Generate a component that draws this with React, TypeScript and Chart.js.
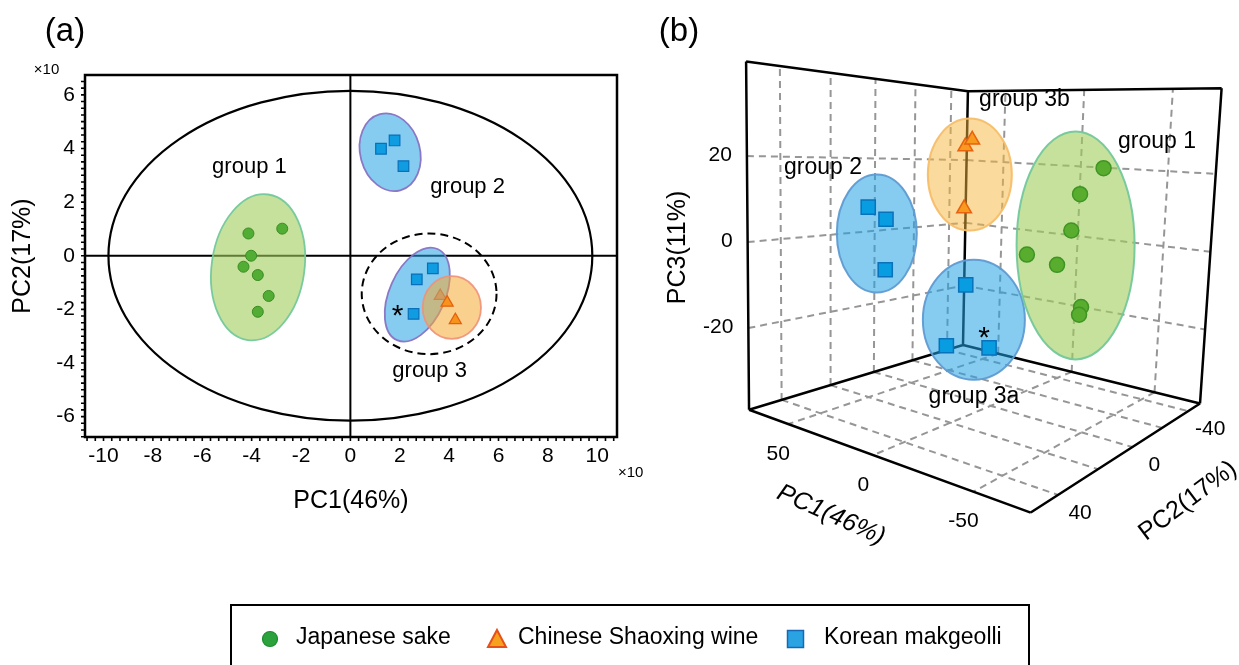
import React, { useEffect, useRef } from 'react';
import { Chart, registerables } from 'chart.js';
Chart.register(...registerables);

const W = 1239;
const H = 665;
const FONT = "'Liberation Sans', Arial, Helvetica, sans-serif";

// ---------------- data (PCA scores) ----------------
const SERIES_NAMES = ['Japanese sake', 'Chinese Shaoxing wine', 'Korean makgeolli'];
const SAKE_PC1 = [-41.3, -27.6, -40.2, -43.3, -37.5, -33.1, -37.5];
const SAKE_PC2 = [8.3, 10.1, 0, -4.1, -7.2, -15.0, -20.9];
const SAKE_PC3 = [-1.1, 0.5, 6.1, -11.7, 14.2, -15.6, 20.4];
const SHAOXING_PC1 = [36.4, 39.2, 42.5];
const SHAOXING_PC2 = [-15.0, -17.5, -24.0];
const SHAOXING_PC3 = [24.3, 7.2, 26.3];
const MAKGEOLLI_PC1 = [12.4, 17.9, 21.5, 33.4, 26.9, 25.6];
const MAKGEOLLI_PC2 = [39.9, 43.0, 33.4, -4.7, -8.8, -21.7];
const MAKGEOLLI_PC3 = [7.8, 10.3, -4.3, -28.2, -12.1, -30.5];
const MARKED_MAKGEOLLI = 5; // sample marked with *

// panel (a) axes (values shown x10)
const A_SCALE_FACTOR = 10;
const A_X_TICKS = [-10, -8, -6, -4, -2, 0, 2, 4, 6, 8, 10];
const A_Y_TICKS = [-6, -4, -2, 0, 2, 4, 6];
const A_X_RANGE = [-10.75, 10.8];
const A_Y_RANGE = [-6.76, 6.74];

// panel (b) axes
const B_PC1_RANGE = [-75, 76];
const B_PC2_RANGE = [-50, 52];
const B_PC3_RANGE = [-39, 42];
const B_PC1_TICKS = [50, 0, -50];
const B_PC2_TICKS = [-40, 0, 40];
const B_PC2_GRID = [-40, -20, 0, 20, 40];
const B_PC3_TICKS = [-20, 0, 20];

// ---------------- styles ----------------
const COL = {
  sakeFill: '#52ad34', sakeBorder: '#3a8a22',
  shaoFill: '#f7921c', shaoBorder: '#e4600e',
  makFill: '#0f9ce0', makBorder: '#0a6fb8',
  greenFill: 'rgba(160,205,90,0.6)', greenStroke: 'rgba(115,200,155,0.95)',
  blueFill: 'rgba(35,162,230,0.55)', blueStrokeA: 'rgba(135,115,195,0.95)', blueStrokeB: 'rgba(95,155,210,0.95)',
  orangeFill: 'rgba(246,170,50,0.55)', orangeStrokeA: 'rgba(240,145,120,0.9)', orangeStrokeB: 'rgba(245,190,105,0.95)',
  grid: 'rgb(150,150,150)',
};

// panel (a) annotation ellipses, in axis units
const A_OUTER = { cx: 0, cy: 0, rx: 9.8, ry: 6.15 };
const A_DASHED = { cx: 3.19, cy: -1.42, rx: 2.73, ry: 2.25 };
const A_ELLIPSES = [
  { cx: -3.74, cy: -0.43, rx: 1.88, ry: 2.74, rot: 8, fill: COL.greenFill, stroke: COL.greenStroke },
  { cx: 1.61, cy: 3.86, rx: 1.21, ry: 1.47, rot: -15, fill: COL.blueFill, stroke: COL.blueStrokeA },
  { cx: 2.71, cy: -1.45, rx: 1.13, ry: 1.86, rot: 24, fill: COL.blueFill, stroke: COL.blueStrokeA },
  { cx: 4.11, cy: -1.93, rx: 1.18, ry: 1.17, rot: 0, fill: COL.orangeFill, stroke: COL.orangeStrokeA },
];
const A_LABELS = [
  { text: 'group 1', x: -4.09, y: 3.31 },
  { text: 'group 2', x: 4.75, y: 2.58 },
  { text: 'group 3', x: 3.21, y: -4.29 },
];

// panel (b) frame: where the box corners sit in the figure
// (u: PC1 max->min, v: PC2 min->max, w: PC3 min->max)
const B_BOX = {
  B0: [969.5, 345.5], B1: [974.5, 82.5], // back vertical edge (u=0,v=0)
  L0: [751.5, 412.5], L1: [748.5, 51.7], // left edge (u=0,v=1)
  R0: [1211, 406], R1: [1233, 79.5],     // right edge (u=1,v=0)
  F0: [1038.5, 519],                      // front floor corner (u=1,v=1)
};
// group ellipses drawn in screen space around the projected group centroid
const B_ELLIPSES = [
  { series: 2, idx: [0, 1, 2], rx: 40, ry: 59, dx: -3, dy: 1.5, fill: COL.blueFill, stroke: COL.blueStrokeB },
  { series: 1, idx: [0, 1, 2], rx: 42, ry: 56, dx: 2.6, dy: 9.6, fill: 'rgba(248,182,62,0.5)', stroke: COL.orangeStrokeB },
  { series: 2, idx: [3, 4, 5], rx: 51, ry: 60, dx: 6.8, dy: -6.4, fill: COL.blueFill, stroke: COL.blueStrokeB },
  { series: 0, idx: [0, 1, 2, 3, 4, 5, 6], rx: 59, ry: 114, dx: 4.3, dy: -2.3, fill: COL.greenFill, stroke: COL.greenStroke },
];
const B_LABELS = [
  { text: 'group 2', x: 823, y: 168 },
  { text: 'group 3b', x: 1024.5, y: 99.5 },
  { text: 'group 1', x: 1157, y: 142 },
  { text: 'group 3a', x: 974, y: 397 },
];

// legend layout
const LEGEND = { left: 231, top: 605, right: 1029, y: 639 };
const LEGEND_MARK_X = [270, 497, 795.5];
const LEGEND_TEXT_X = [296, 518, 824];

// ---------------- helpers ----------------
// perspective floor/top planes (homography from the corners), linear along PC3
function makeProjection(b: typeof B_BOX) {
  const { B0, B1, L0, L1, R0, R1, F0 } = b;
  const a11 = R0[0] - F0[0], a12 = L0[0] - F0[0];
  const a21 = R0[1] - F0[1], a22 = L0[1] - F0[1];
  const b1 = B0[0] - F0[0], b2 = B0[1] - F0[1];
  const det = a11 * a22 - a12 * a21;
  const wR = (b1 * a22 - a12 * b2) / det;
  const wL = (a11 * b2 - a21 * b1) / det;
  return (u: number, v: number, w: number) => {
    const D = 1 + u * (wR - 1) + v * (wL - 1);
    const f = (P0: number[], Pl: number[], Pr: number[], k: number) =>
      P0[k] + u * (wR * Pr[k] - P0[k]) + v * (wL * Pl[k] - P0[k]);
    return [
      ((1 - w) * f(B0, L0, R0, 0) + w * f(B1, L1, R1, 0)) / D,
      ((1 - w) * f(B0, L0, R0, 1) + w * f(B1, L1, R1, 1)) / D,
    ];
  };
}
const camera = makeProjection(B_BOX);
const uOf = (pc1: number) => (B_PC1_RANGE[1] - pc1) / (B_PC1_RANGE[1] - B_PC1_RANGE[0]);
const vOf = (pc2: number) => (pc2 - B_PC2_RANGE[0]) / (B_PC2_RANGE[1] - B_PC2_RANGE[0]);
const wOf = (pc3: number) => (pc3 - B_PC3_RANGE[0]) / (B_PC3_RANGE[1] - B_PC3_RANGE[0]);
const project3 = (pc1: number, pc2: number, pc3: number) => camera(uOf(pc1), vOf(pc2), wOf(pc3));

function text(ctx: CanvasRenderingContext2D, s: string, x: number, y: number, size: number, align: CanvasTextAlign = 'center', rot = 0, style = '') {
  ctx.save();
  ctx.font = `${style} ${size}px ${FONT}`;
  ctx.fillStyle = '#000';
  ctx.textAlign = align;
  ctx.textBaseline = 'middle';
  ctx.translate(x, y);
  if (rot) ctx.rotate((rot * Math.PI) / 180);
  ctx.fillText(s, 0, 0);
  ctx.restore();
}

function drawLegend(ctx: CanvasRenderingContext2D) {
  ctx.save();
  ctx.strokeStyle = '#000';
  ctx.lineWidth = 2;
  ctx.strokeRect(LEGEND.left, LEGEND.top, LEGEND.right - LEGEND.left, 100);
  const y = LEGEND.y;
  ctx.beginPath();
  ctx.arc(LEGEND_MARK_X[0], y, 7.5, 0, Math.PI * 2);
  ctx.fillStyle = '#2ba23c';
  ctx.fill();
  ctx.strokeStyle = '#1f8a30';
  ctx.lineWidth = 1.2;
  ctx.stroke();
  const tx = LEGEND_MARK_X[1];
  ctx.beginPath();
  ctx.moveTo(tx, y - 9);
  ctx.lineTo(tx + 9, y + 8);
  ctx.lineTo(tx - 9, y + 8);
  ctx.closePath();
  ctx.fillStyle = '#f7a21e';
  ctx.fill();
  ctx.strokeStyle = '#e8501a';
  ctx.lineWidth = 2;
  ctx.stroke();
  const sx = LEGEND_MARK_X[2];
  ctx.fillStyle = '#2aa3e2';
  ctx.fillRect(sx - 8, y - 8.5, 16, 17);
  ctx.strokeStyle = '#1767b5';
  ctx.lineWidth = 1.5;
  ctx.strokeRect(sx - 8, y - 8.5, 16, 17);
  ctx.restore();
  SERIES_NAMES.forEach((s, i) => text(ctx, s, LEGEND_TEXT_X[i], y - 1, 23, 'left'));
}

// ---------------- panel (a) plugin ----------------
const panelAPlugin = {
  id: 'panelA',
  beforeDatasetsDraw(chart: any) {
    const { ctx, chartArea } = chart;
    const xs = chart.scales.x, ys = chart.scales.y;
    const X = (v: number) => xs.getPixelForValue(v);
    const Y = (v: number) => ys.getPixelForValue(v);
    ctx.save();
    ctx.strokeStyle = '#000';
    ctx.lineWidth = 2;
    ctx.beginPath();
    ctx.moveTo(chartArea.left, Y(0));
    ctx.lineTo(chartArea.right, Y(0));
    ctx.moveTo(X(0), chartArea.top);
    ctx.lineTo(X(0), chartArea.bottom);
    ctx.stroke();
    const ell = (e: any) => {
      const cx = X(e.cx), cy = Y(e.cy);
      const rx = Math.abs(X(e.cx + e.rx) - cx), ry = Math.abs(Y(e.cy + e.ry) - cy);
      ctx.beginPath();
      ctx.ellipse(cx, cy, rx, ry, ((e.rot || 0) * Math.PI) / 180, 0, Math.PI * 2);
    };
    ell(A_OUTER);
    ctx.lineWidth = 2.2;
    ctx.stroke();
    ell(A_DASHED);
    ctx.setLineDash([8, 5]);
    ctx.lineWidth = 2;
    ctx.stroke();
    ctx.setLineDash([]);
    for (const e of A_ELLIPSES) {
      ell(e);
      ctx.fillStyle = e.fill;
      ctx.fill();
      ctx.strokeStyle = e.stroke;
      ctx.lineWidth = 1.8;
      ctx.stroke();
    }
    ctx.restore();
  },
  afterDatasetsDraw(chart: any) {
    const { ctx, chartArea } = chart;
    const xs = chart.scales.x, ys = chart.scales.y;
    const { left, right, top, bottom } = chartArea;
    ctx.save();
    ctx.strokeStyle = '#000';
    ctx.lineWidth = 2.5;
    ctx.strokeRect(left, top, right - left, bottom - top);
    ctx.lineWidth = 1.6;
    ctx.beginPath();
    for (let k = Math.ceil(A_X_RANGE[0] * 3); k <= Math.floor(A_X_RANGE[1] * 3); k++) {
      const px = xs.getPixelForValue(k / 3);
      ctx.moveTo(px, bottom);
      ctx.lineTo(px, bottom + 4);
    }
    for (let k = Math.ceil(A_Y_RANGE[0] * 4); k <= Math.floor(A_Y_RANGE[1] * 4); k++) {
      const py = ys.getPixelForValue(k / 4);
      ctx.moveTo(left, py);
      ctx.lineTo(left - 4, py);
    }
    ctx.stroke();
    ctx.restore();
    for (const l of A_LABELS) text(ctx, l.text, xs.getPixelForValue(l.x), ys.getPixelForValue(l.y), 22);
    const mx = xs.getPixelForValue(MAKGEOLLI_PC1[MARKED_MAKGEOLLI] / A_SCALE_FACTOR);
    const my = ys.getPixelForValue(MAKGEOLLI_PC2[MARKED_MAKGEOLLI] / A_SCALE_FACTOR);
    text(ctx, '*', mx - 16, my + 3, 30);
    text(ctx, '\u00d710', 46.5, 69.5, 15);
    text(ctx, '\u00d710', 618, 473, 15, 'left');
    text(ctx, '(a)', 65, 31.5, 33);
  },
  afterDraw(chart: any) {
    drawLegend(chart.ctx);
  },
};

// ---------------- panel (b) plugin ----------------
const panelBPlugin = {
  id: 'panelB',
  beforeDatasetsDraw(chart: any) {
    const { ctx } = chart;
    const xs = chart.scales.x, ys = chart.scales.y;
    const P = (u: number, v: number, w: number) => {
      const p = camera(u, v, w);
      return [xs.getPixelForValue(p[0]), ys.getPixelForValue(p[1])];
    };
    const line = (a: number[], b: number[]) => {
      ctx.moveTo(a[0], a[1]);
      ctx.lineTo(b[0], b[1]);
    };
    ctx.save();
    ctx.strokeStyle = COL.grid;
    ctx.lineWidth = 2;
    ctx.setLineDash([7, 5]);
    ctx.beginPath();
    for (const t of B_PC2_GRID) {
      const v = vOf(t);
      line(P(0, v, 0), P(0, v, 1));
      line(P(0, v, 0), P(1, v, 0));
    }
    for (const t of B_PC1_TICKS) {
      const u = uOf(t);
      line(P(u, 0, 0), P(u, 0, 1));
      line(P(u, 0, 0), P(u, 1, 0));
    }
    for (const t of B_PC3_TICKS) {
      const w = wOf(t);
      line(P(0, 1, w), P(0, 0, w));
      line(P(0, 0, w), P(1, 0, w));
    }
    ctx.stroke();
    ctx.setLineDash([]);
    ctx.strokeStyle = '#000';
    ctx.lineWidth = 2.5;
    ctx.beginPath();
    line(P(0, 0, 0), P(0, 0, 1));
    line(P(0, 1, 0), P(0, 1, 1));
    line(P(1, 0, 0), P(1, 0, 1));
    line(P(0, 1, 1), P(0, 0, 1));
    line(P(0, 0, 1), P(1, 0, 1));
    line(P(0, 1, 0), P(0, 0, 0));
    line(P(0, 0, 0), P(1, 0, 0));
    line(P(0, 1, 0), P(1, 1, 0));
    line(P(1, 0, 0), P(1, 1, 0));
    ctx.stroke();
    for (const e of B_ELLIPSES) {
      const ds = chart.data.datasets[e.series].data;
      let sx = 0, sy = 0;
      e.idx.forEach((i: number) => { sx += ds[i].x; sy += ds[i].y; });
      const cx = xs.getPixelForValue(sx / e.idx.length) + e.dx;
      const cy = ys.getPixelForValue(sy / e.idx.length) + e.dy;
      ctx.beginPath();
      ctx.ellipse(cx, cy, e.rx, e.ry, 0, 0, Math.PI * 2);
      ctx.fillStyle = e.fill;
      ctx.fill();
      ctx.strokeStyle = e.stroke;
      ctx.lineWidth = 2;
      ctx.stroke();
    }
    ctx.restore();
  },
  afterDatasetsDraw(chart: any) {
    const { ctx } = chart;
    const xs = chart.scales.x, ys = chart.scales.y;
    const P = (u: number, v: number, w: number) => {
      const p = camera(u, v, w);
      return [xs.getPixelForValue(p[0]), ys.getPixelForValue(p[1])];
    };
    for (const t of B_PC3_TICKS) {
      const p = P(0, 1, wOf(t));
      text(ctx, String(t), p[0] - 15, p[1] - 1, 21, 'right');
    }
    for (const t of B_PC1_TICKS) {
      const p = P(uOf(t), 1, 0);
      text(ctx, String(t), p[0] - 10, p[1] + 30, 21);
    }
    for (const t of B_PC2_TICKS) {
      const p = P(1, vOf(t), 0);
      text(ctx, String(t), p[0] + 22, p[1] + 18, 21);
    }
    text(ctx, 'PC3(11%)', 678, 247.5, 25, 'center', -90);
    text(ctx, 'PC1(46%)', 831, 515, 25, 'center', 24, 'italic');
    text(ctx, 'PC2(17%)', 1188, 501, 25, 'center', -37);
    for (const l of B_LABELS) text(ctx, l.text, l.x, l.y, 23);
    const m = chart.data.datasets[2].data[MARKED_MAKGEOLLI];
    text(ctx, '*', xs.getPixelForValue(m.x) - 5, ys.getPixelForValue(m.y) - 9, 30);
    text(ctx, '(b)', 679, 31.5, 33);
  },
};

export default function App() {
  const refA = useRef<HTMLCanvasElement>(null);
  const refB = useRef<HTMLCanvasElement>(null);

  useEffect(() => {
    Chart.defaults.font.family = FONT;
    Chart.defaults.color = '#000';

    const aData = (pc1: number[], pc2: number[]) =>
      pc1.map((v, i) => ({ x: v / A_SCALE_FACTOR, y: pc2[i] / A_SCALE_FACTOR }));
    const bData = (pc1: number[], pc2: number[], pc3: number[]) =>
      pc1.map((v, i) => {
        const p = project3(v, pc2[i], pc3[i]);
        return { x: p[0], y: p[1] };
      });

    const chartA = new Chart(refA.current as HTMLCanvasElement, {
      type: 'scatter',
      data: {
        datasets: [
          { label: SERIES_NAMES[0], data: aData(SAKE_PC1, SAKE_PC2), pointStyle: 'circle', pointRadius: 5.5, backgroundColor: COL.sakeFill, borderColor: COL.sakeBorder, borderWidth: 1 },
          { label: SERIES_NAMES[1], data: aData(SHAOXING_PC1, SHAOXING_PC2), pointStyle: 'triangle', pointRadius: 7, backgroundColor: ['#cf9c62', COL.shaoFill, COL.shaoFill], borderColor: ['#c9884e', COL.shaoBorder, COL.shaoBorder], borderWidth: 1.2 },
          { label: SERIES_NAMES[2], data: aData(MAKGEOLLI_PC1, MAKGEOLLI_PC2), pointStyle: 'rect', pointRadius: 7.5, backgroundColor: COL.makFill, borderColor: COL.makBorder, borderWidth: 1.2 },
        ],
      },
      options: {
        animation: false,
        responsive: false,
        events: [],
        layout: { padding: { left: 0, top: 75, right: W - 617, bottom: H - 437 - 79 } },
        plugins: { legend: { display: false }, tooltip: { enabled: false } },
        scales: {
          x: {
            type: 'linear', min: A_X_RANGE[0], max: A_X_RANGE[1], bounds: 'data',
            afterBuildTicks: (s: any) => { s.ticks = A_X_TICKS.map((v) => ({ value: v })); },
            afterFit: (s: any) => { s.height = 79; },
            grid: { display: false, drawTicks: false },
            border: { display: false },
            ticks: { font: { size: 21, family: FONT }, color: '#000', padding: 6.4, maxRotation: 0, autoSkip: false, callback: (v: any) => String(v) },
            title: { display: true, text: 'PC1(46%)', font: { size: 25, family: FONT }, color: '#000', padding: { top: 0, bottom: 0 } },
          },
          y: {
            type: 'linear', min: A_Y_RANGE[0], max: A_Y_RANGE[1], bounds: 'data',
            afterBuildTicks: (s: any) => { s.ticks = A_Y_TICKS.map((v) => ({ value: v })); },
            afterFit: (s: any) => { s.width = 85; },
            grid: { display: false, drawTicks: false },
            border: { display: false },
            ticks: { font: { size: 21, family: FONT }, color: '#000', padding: 10, autoSkip: false, callback: (v: any) => String(v) },
            title: { display: true, text: 'PC2(17%)', font: { size: 25, family: FONT }, color: '#000', padding: { top: 8.5, bottom: 0 } },
          },
        },
      } as any,
      plugins: [panelAPlugin],
    });

    const chartB = new Chart(refB.current as HTMLCanvasElement, {
      type: 'scatter',
      data: {
        datasets: [
          { label: SERIES_NAMES[0], data: bData(SAKE_PC1, SAKE_PC2, SAKE_PC3), pointStyle: 'circle', pointRadius: 7.5, backgroundColor: '#58ad2e', borderColor: '#3f9424', borderWidth: 1.5 },
          { label: SERIES_NAMES[1], data: bData(SHAOXING_PC1, SHAOXING_PC2, SHAOXING_PC3), pointStyle: 'triangle', pointRadius: 8.5, backgroundColor: '#f79a1e', borderColor: '#e8620f', borderWidth: 1.5 },
          { label: SERIES_NAMES[2], data: bData(MAKGEOLLI_PC1, MAKGEOLLI_PC2, MAKGEOLLI_PC3), pointStyle: 'rect', pointRadius: 10, backgroundColor: '#089ce0', borderColor: '#0a72ba', borderWidth: 1.5 },
        ],
      },
      options: {
        animation: false,
        responsive: false,
        events: [],
        layout: { padding: 0 },
        plugins: { legend: { display: false }, tooltip: { enabled: false } },
        scales: {
          x: { type: 'linear', display: false, min: 0, max: W },
          y: { type: 'linear', display: false, min: 0, max: H, reverse: true },
        },
      } as any,
      plugins: [panelBPlugin],
    });

    return () => {
      chartA.destroy();
      chartB.destroy();
    };
  }, []);

  const cs: React.CSSProperties = { position: 'absolute', left: 0, top: 0, width: W, height: H };
  return (
    <div style={{ position: 'absolute', left: 0, top: 0, width: W, height: H, background: '#fff' }}>
      <canvas ref={refA} width={W} height={H} style={cs} />
      <canvas ref={refB} width={W} height={H} style={cs} />
    </div>
  );
}
